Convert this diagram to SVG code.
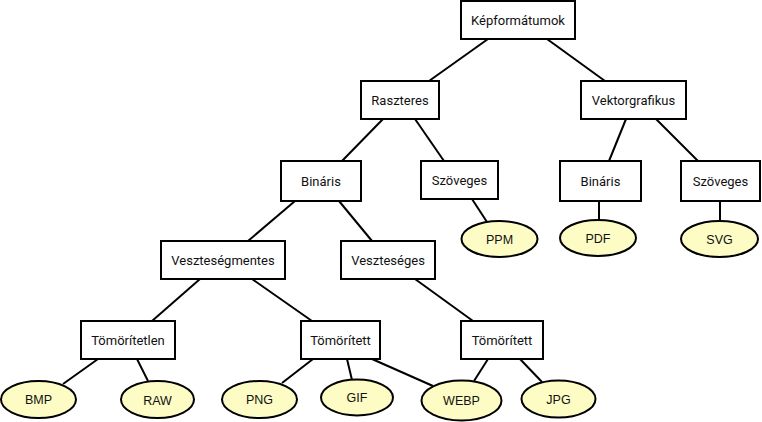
<svg xmlns="http://www.w3.org/2000/svg" width="762" height="422" viewBox="0 0 762 422">
<style>
.box rect{fill:#fff;stroke:#000;stroke-width:2}
.box text{font-family:Roboto,"Liberation Sans",sans-serif;font-size:13px;fill:#111;text-anchor:middle}
.leaf ellipse{fill:#fcfcc4;stroke:#000;stroke-width:2}
.leaf text{font-family:"Liberation Sans",Arial,sans-serif;font-size:12.5px;fill:#111;text-anchor:middle}
#edges line{stroke:#000;stroke-width:2}
</style>
<rect width="762" height="422" fill="#fff"/>
<g id="edges">
<line x1="488" y1="39" x2="429" y2="81"/>
<line x1="547" y1="39" x2="605" y2="81"/>
<line x1="383" y1="119" x2="342" y2="161"/>
<line x1="415" y1="119" x2="444" y2="161"/>
<line x1="626" y1="119" x2="609" y2="161"/>
<line x1="656" y1="119" x2="698" y2="161"/>
<line x1="472" y1="199" x2="487" y2="222"/>
<line x1="599" y1="201" x2="599" y2="220"/>
<line x1="720" y1="201" x2="720" y2="221"/>
<line x1="295" y1="201" x2="248" y2="241"/>
<line x1="339" y1="201" x2="372" y2="241"/>
<line x1="200" y1="279" x2="152" y2="321"/>
<line x1="252" y1="279" x2="312" y2="321"/>
<line x1="415" y1="279" x2="473" y2="321"/>
<line x1="98" y1="359" x2="63" y2="384"/>
<line x1="137" y1="359" x2="148" y2="381"/>
<line x1="313" y1="359" x2="282" y2="383"/>
<line x1="347" y1="359" x2="352" y2="380"/>
<line x1="372" y1="359" x2="433" y2="386"/>
<line x1="488" y1="359" x2="474" y2="381"/>
<line x1="520" y1="359" x2="542" y2="382"/>
</g>
<g id="kepformatumok" class="box"><rect x="461" y="1" width="114" height="38"/><text x="518" y="24.5">Képformátumok</text></g>
<g id="raszteres" class="box"><rect x="361" y="81" width="78" height="38"/><text x="400" y="104.5">Raszteres</text></g>
<g id="vektorgrafikus" class="box"><rect x="581" y="81" width="105" height="38"/><text x="633.5" y="104.5">Vektorgrafikus</text></g>
<g id="binaris-r" class="box"><rect x="281" y="161" width="80" height="40"/><text x="321" y="185.5">Bináris</text></g>
<g id="szoveges-r" class="box"><rect x="421" y="161" width="77" height="38"/><text x="459.5" y="184.5">Szöveges</text></g>
<g id="binaris-v" class="box"><rect x="560" y="161" width="81" height="40"/><text x="600.5" y="185.5">Bináris</text></g>
<g id="szoveges-v" class="box"><rect x="681" y="161" width="79" height="40"/><text x="720.5" y="185.5">Szöveges</text></g>
<g id="vesztesegmentes" class="box"><rect x="161" y="241" width="124" height="38"/><text x="223" y="264.5">Veszteségmentes</text></g>
<g id="veszteseges" class="box"><rect x="341" y="241" width="94" height="38"/><text x="388" y="264.5">Veszteséges</text></g>
<g id="tomoritetlen" class="box"><rect x="81" y="321" width="94" height="38"/><text x="128" y="344.5">Tömörítetlen</text></g>
<g id="tomoritett-1" class="box"><rect x="301" y="321" width="79" height="38"/><text x="340.5" y="344.5">Tömörített</text></g>
<g id="tomoritett-2" class="box"><rect x="461" y="321" width="82" height="38"/><text x="502" y="344.5">Tömörített</text></g>
<g id="ppm" class="leaf"><ellipse cx="499.5" cy="239" rx="38" ry="18"/><text x="499.5" y="243.5">PPM</text></g>
<g id="pdf" class="leaf"><ellipse cx="598" cy="238" rx="38" ry="18"/><text x="598" y="242.5">PDF</text></g>
<g id="svg" class="leaf"><ellipse cx="719.5" cy="239" rx="38.5" ry="18"/><text x="719.5" y="243.5">SVG</text></g>
<g id="bmp" class="leaf"><ellipse cx="38.5" cy="399.5" rx="37.5" ry="18.5"/><text x="38.5" y="404">BMP</text></g>
<g id="raw" class="leaf"><ellipse cx="157.5" cy="399.5" rx="36.5" ry="18.5"/><text x="157.5" y="405">RAW</text></g>
<g id="png" class="leaf"><ellipse cx="259.5" cy="399.5" rx="37.5" ry="18.5"/><text x="259.5" y="404">PNG</text></g>
<g id="gif" class="leaf"><ellipse cx="357" cy="397.5" rx="36" ry="18"/><text x="357" y="402">GIF</text></g>
<g id="webp" class="leaf"><ellipse cx="461.5" cy="400.5" rx="40" ry="20"/><text x="461.5" y="405">WEBP</text></g>
<g id="jpg" class="leaf"><ellipse cx="558.5" cy="399" rx="37" ry="18.5"/><text x="558.5" y="403.5">JPG</text></g>
</svg>
